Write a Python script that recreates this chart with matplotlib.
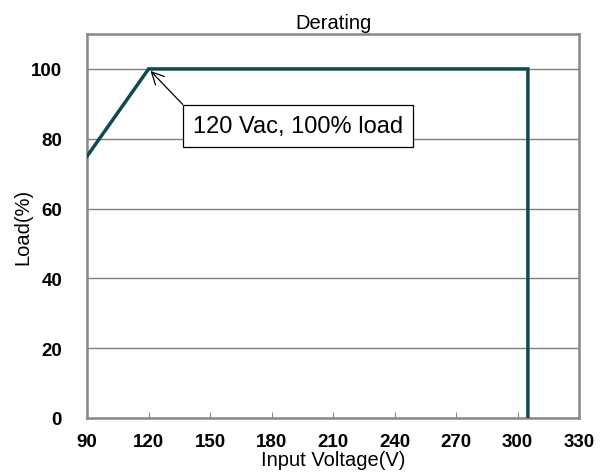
import matplotlib.pyplot as plt
import numpy as np

plt.rcParams['font.family'] = ['Liberation Sans', 'DejaVu Sans']

voltage = [90, 120, 305, 305]
load = [75, 100, 100, 0]
x_ticks = [90, 120, 150, 180, 210, 240, 270, 300, 330]
y_ticks = [0, 20, 40, 60, 80, 100]

fig = plt.figure(figsize=(6.09, 4.77), dpi=100)
ax = fig.add_axes([0.143, 0.1216, 0.808, 0.805])

ax.plot(voltage, load, color='#0e4a50', lw=2.5, solid_joinstyle='miter', zorder=3)

ax.set_xlim(90, 330)
ax.set_ylim(0, 110)
ax.set_xticks(x_ticks)
ax.set_yticks(y_ticks)
ax.yaxis.grid(True, color='#808080', lw=1)
ax.set_axisbelow(True)
for s in ax.spines.values():
    s.set_color('#888888')
    s.set_linewidth(1.8)
ax.tick_params(axis='x', direction='in', length=4, color='#888888', labelsize=13.5, pad=11)
ax.tick_params(axis='y', length=0, labelsize=13.5, pad=18)
for lab in ax.get_xticklabels() + ax.get_yticklabels():
    lab.set_fontweight('bold')

ax.set_title('Derating', fontsize=14.5, pad=4)
ax.set_xlabel('Input Voltage(V)', fontsize=14.5, labelpad=0)
ax.set_ylabel('Load(%)', fontsize=14.5, labelpad=-1)

ax.annotate('120 Vac, 100% load', xy=(120, 100), xytext=(141.5, 83.7),
            fontsize=17, va='center', ha='left',
            bbox=dict(boxstyle='square,pad=0.42', fc='white', ec='black', lw=0.9),
            arrowprops=dict(arrowstyle='->', color='black', lw=0.9,
                            relpos=(0, 1), shrinkA=0, shrinkB=2,
                            mutation_scale=22))

fig.savefig('out.png', dpi=100)
